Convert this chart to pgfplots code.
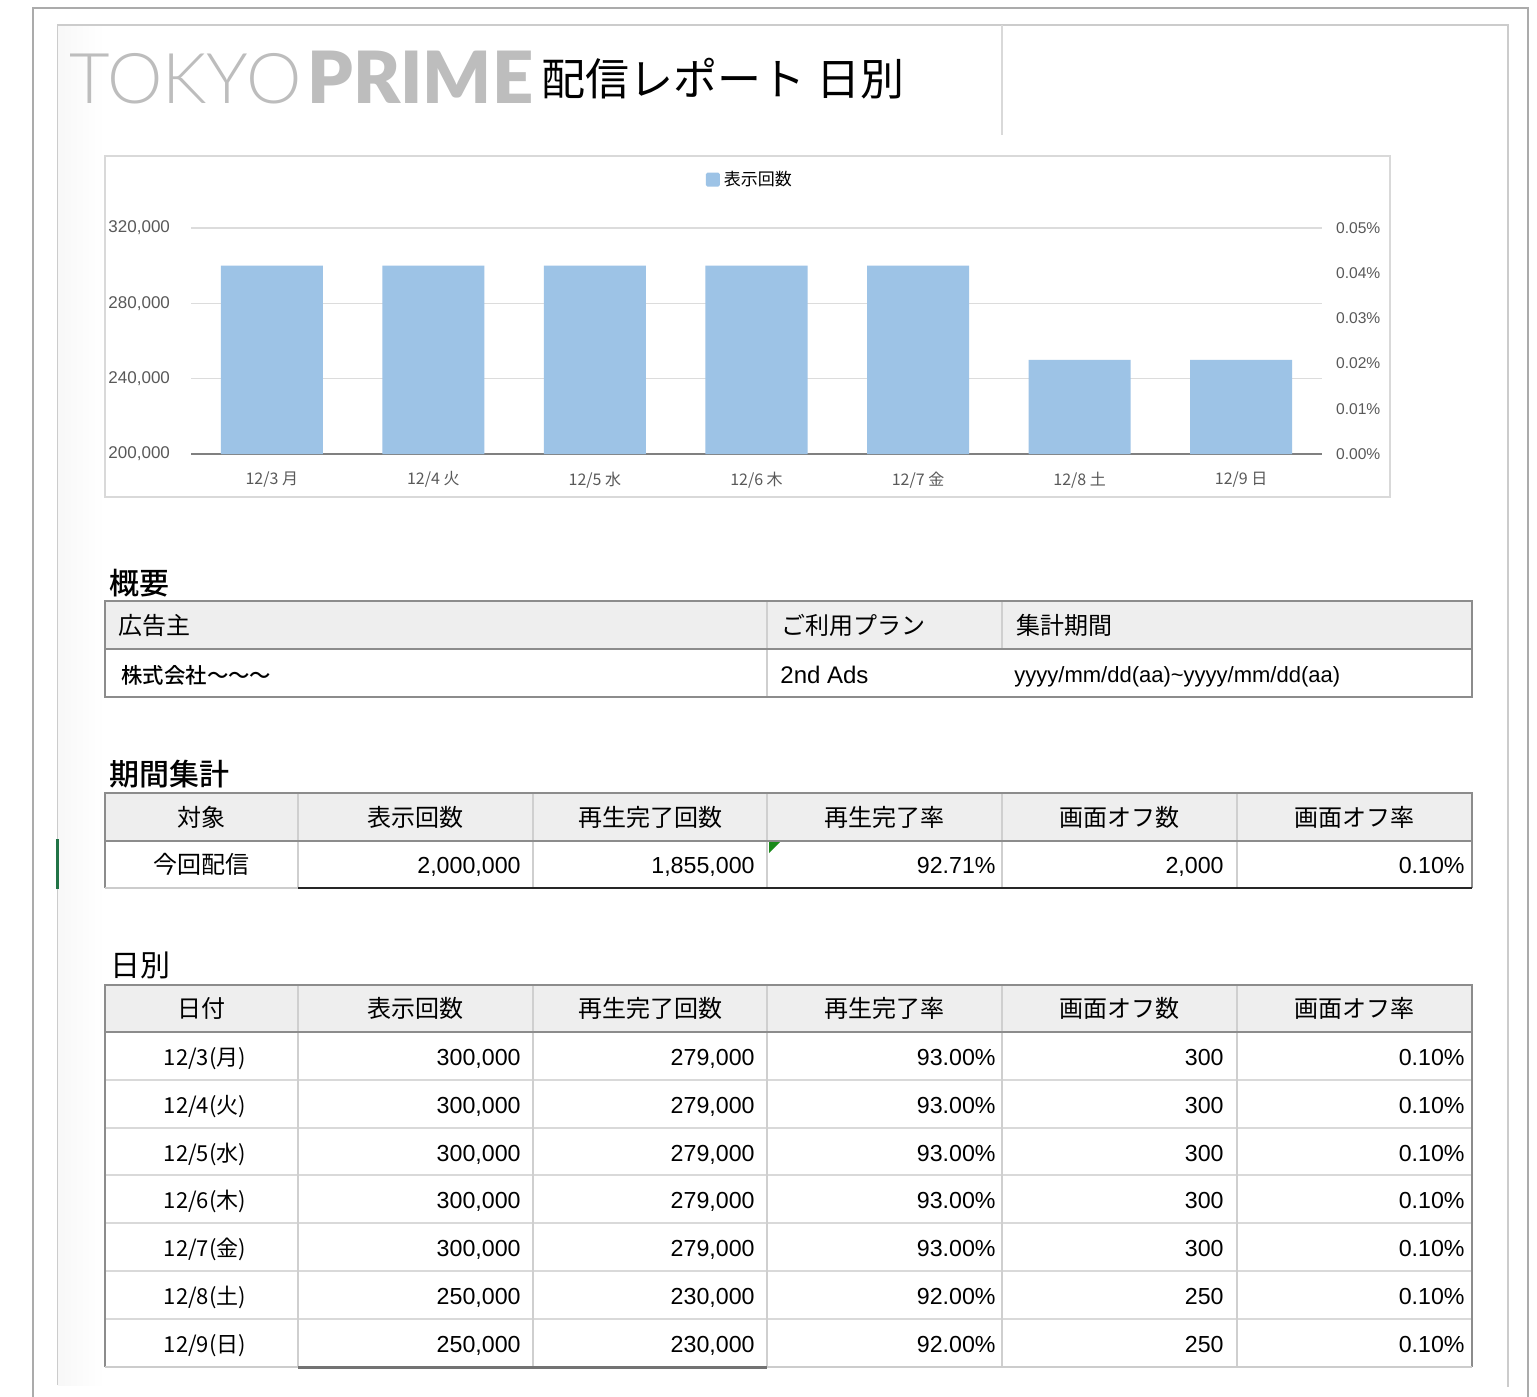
\documentclass[border=0pt]{standalone}
\usepackage{pgfplots}
\pgfplotsset{compat=1.18}
\usepackage{fontspec}
\setmainfont{Noto Sans CJK JP}
\newfontfamily\cjkm{Noto Sans CJK JP Medium}
\newfontfamily\arial{Liberation Sans}
\newfontfamily\latolight{Lato Light}
\newfontfamily\latoblack{Lato Black}
\definecolor{barblue}{HTML}{9DC3E6}
\definecolor{gridc}{HTML}{DCDCDC}
\definecolor{tickc}{HTML}{595959}
\definecolor{framec}{HTML}{D9D9D9}
\definecolor{hdrfill}{HTML}{EEEEEE}
\definecolor{tborder}{HTML}{8C8C8C}
\definecolor{tinner}{HTML}{CFCFCF}
\definecolor{logog}{HTML}{BDBDBD}
\definecolor{xlgreen}{HTML}{217346}
\definecolor{trigreen}{HTML}{1A8A1A}
\newcommand\drow[6]{%
 \node[inner sep=0,anchor=base,font=\fontsize{11}{11}\selectfont] at (205,#2) {#1};
 \node[inner sep=0,anchor=base east,font=\arial\fontsize{11.6}{11.6}\selectfont] at (521,#2) {#3};
 \node[inner sep=0,anchor=base east,font=\arial\fontsize{11.6}{11.6}\selectfont] at (755,#2) {#4};
 \node[inner sep=0,anchor=base east,font=\arial\fontsize{11.6}{11.6}\selectfont] at (996,#2) {#5};
 \node[inner sep=0,anchor=base east,font=\arial\fontsize{11.6}{11.6}\selectfont] at (1224,#2) {#6};
 \node[inner sep=0,anchor=base east,font=\arial\fontsize{11.6}{11.6}\selectfont] at (1465,#2) {0.10\%};
}
\begin{document}
\begin{tikzpicture}
\useasboundingbox (0,0) rectangle (768.5pt,-698.5pt);
\fill[white] (0,0) rectangle (768.5pt,-698.5pt);
\begin{scope}[x=0.5pt,y=-0.5pt]
% page frames
\shade[left color=black!3,right color=white] (58,26) rectangle (104,1385);
\draw[color=black!33,line width=1pt] (33,1397) -- (33,8) -- (1528,8) -- (1528,1397);
\draw[color=black!20,line width=0.7pt] (57.5,1385) -- (57.5,25) -- (1508,25) -- (1508,1387);
\draw[color=black!15,line width=0.6pt] (1002,25) -- (1002,135);
\draw[color=xlgreen,line width=1.2pt] (57.5,839) -- (57.5,889);
% title
\node[anchor=base west,inner sep=0,text=logog,font=\latolight\fontsize{35}{35}\selectfont] at (69,103) {TOKYO};
\node[anchor=base west,inner sep=0,text=logog,font=\latoblack\fontsize{36}{36}\selectfont] at (307,103) {PRIME};
\node[anchor=west,inner sep=0,font=\fontsize{22}{22}\selectfont] at (541,79) {配信レポート\kern0.25em 日別};
% chart frame
\draw[color=framec,line width=0.7pt] (105,156) rectangle (1390,497);
% section headings
\node[anchor=base west,inner sep=0,font=\cjkm\fontsize{15}{15}\selectfont] at (109,594) {概要};
\node[anchor=base west,inner sep=0,font=\cjkm\fontsize{15}{15}\selectfont] at (109,785) {期間集計};
\node[anchor=base west,inner sep=0,font=\fontsize{15}{15}\selectfont] at (110,976) {日別};
% ---- table 1
\fill[hdrfill] (105,601) rectangle (1472,649);
\draw[color=tinner,line width=0.6pt] (767,601) -- (767,697) (1002,601) -- (1002,649);
\draw[color=tborder,line width=1.1pt] (105,649) -- (1472,649);
\draw[color=tborder,line width=1.1pt] (105,601) rectangle (1472,697);
\begin{scope}[every node/.style={inner sep=0,font=\fontsize{12}{12}\selectfont}]
\node[anchor=base west] at (118,634) {広告主};
\node[anchor=base west] at (781,634) {ご利用プラン};
\node[anchor=base west] at (1016,634) {集計期間};
\node[anchor=base west,font=\cjkm\fontsize{10.7}{10.7}\selectfont] at (121,683) {株式会社〜〜〜};
\node[anchor=base west,font=\arial\fontsize{12}{12}\selectfont] at (780,683) {2nd Ads};
\node[anchor=base west,font=\arial\fontsize{11}{11}\selectfont] at (1014,682) {yyyy/mm/dd(aa)\textasciitilde yyyy/mm/dd(aa)};
\end{scope}
% ---- table 2
\fill[hdrfill] (105,793) rectangle (1472,841);
\foreach \xx in {298,533,767,1002,1237} \draw[color=tinner,line width=0.6pt] (\xx,793) -- (\xx,888);
\draw[color=tborder,line width=1.1pt] (105,841) -- (1472,841);
\draw[color=tborder,line width=1.1pt] (105,888) -- (105,793) -- (1472,793) -- (1472,888);
\draw[color=black!20,line width=1pt] (105,888) -- (298,888);
\draw[color=black!85,line width=1.3pt] (298,888) -- (1472,888);
\fill[trigreen] (769,842) -- (780,842) -- (769,853) -- cycle;
\begin{scope}[every node/.style={inner sep=0,font=\fontsize{12}{12}\selectfont}]
\node[anchor=base] at (201.5,826) {対象};
\node[anchor=base] at (415.5,826) {表示回数};
\node[anchor=base] at (650,826) {再生完了回数};
\node[anchor=base] at (884.5,826) {再生完了率};
\node[anchor=base] at (1119.5,826) {画面オフ数};
\node[anchor=base] at (1354.5,826) {画面オフ率};
\node[anchor=base] at (201.5,873) {今回配信};
\end{scope}
\begin{scope}[every node/.style={inner sep=0,anchor=base east,font=\arial\fontsize{11.6}{11.6}\selectfont}]
\node at (521,873) {2,000,000};
\node at (755,873) {1,855,000};
\node at (996,873) {92.71\%};
\node at (1224,873) {2,000};
\node at (1465,873) {0.10\%};
\end{scope}
% ---- table 3
\fill[hdrfill] (105,985) rectangle (1472,1032);
\foreach \yy in {1080,1128,1175,1223,1271,1319} \draw[color=black!15,line width=1pt] (105,\yy) -- (1472,\yy);
\foreach \xx in {298,533,767,1002,1237} \draw[color=tinner,line width=0.6pt] (\xx,985) -- (\xx,1367);
\draw[color=tborder,line width=1.1pt] (105,1032) -- (1472,1032);
\draw[color=tborder,line width=1.1pt] (105,1367) -- (105,985) -- (1472,985) -- (1472,1367);
\draw[color=black!20,line width=1pt] (105,1367) -- (298,1367) (767,1367) -- (1472,1367);
\draw[color=black!55,line width=1.5pt] (298,1367) -- (767,1367);
\begin{scope}[every node/.style={inner sep=0,font=\fontsize{12}{12}\selectfont}]
\node[anchor=base] at (201.5,1017) {日付};
\node[anchor=base] at (415.5,1017) {表示回数};
\node[anchor=base] at (650,1017) {再生完了回数};
\node[anchor=base] at (884.5,1017) {再生完了率};
\node[anchor=base] at (1119.5,1017) {画面オフ数};
\node[anchor=base] at (1354.5,1017) {画面オフ率};
\end{scope}
\drow{12/3(月)}{1065}{300,000}{279,000}{93.00\%}{300}
\drow{12/4(火)}{1113}{300,000}{279,000}{93.00\%}{300}
\drow{12/5(水)}{1161}{300,000}{279,000}{93.00\%}{300}
\drow{12/6(木)}{1208}{300,000}{279,000}{93.00\%}{300}
\drow{12/7(金)}{1256}{300,000}{279,000}{93.00\%}{300}
\drow{12/8(土)}{1304}{250,000}{230,000}{92.00\%}{250}
\drow{12/9(日)}{1352}{250,000}{230,000}{92.00\%}{250}
\end{scope}
% ---- chart
\begin{axis}[
  at={(95.5pt,-227pt)}, anchor=south west, scale only axis,
  width=565.5pt, height=113pt,
  ybar, bar width=51pt,
  xmin=-0.5, xmax=6.5, ymin=200000, ymax=320000,
  scaled y ticks=false,
  xtick={0,1,2,3,4,5,6},
  xticklabels={12/3 月,12/4 火,12/5 水,12/6 木,12/7 金,12/8 土,12/9 日},
  ytick={200000,240000,280000,320000},
  yticklabels={{200,000},{240,000},{280,000},{320,000}},
  axis x line*=bottom, axis y line*=left,
  y axis line style={draw=none},
  x axis line style={draw=black!50, line width=0.6pt},
  major tick length=0pt,
  ymajorgrids, grid style={gridc, line width=0.6pt},
  tick label style={text=tickc},
  yticklabel style={font=\arial\fontsize{8.5}{8.5}\selectfont, xshift=-7pt},
  xticklabel style={font=\fontsize{8}{8}\selectfont, yshift=-5.3pt},
  legend style={at={(0.495,1.272)}, anchor=north, draw=none, fill=none,
    font=\fontsize{8.5}{8.5}\selectfont, inner sep=0pt},
  legend image code/.code={\fill[barblue, rounded corners=0.8pt] (0pt,-3.5pt) rectangle (7pt,3.5pt);},
]
\addplot[fill=barblue, draw=none] coordinates {(0,300000) (1,300000) (2,300000) (3,300000) (4,300000) (5,250000) (6,250000)};
\addlegendentry{表示回数}
\end{axis}
\begin{axis}[
  at={(95.5pt,-227pt)}, anchor=south west, scale only axis,
  width=565.5pt, height=113pt,
  xmin=-0.5, xmax=6.5, ymin=0, ymax=0.05,
  scaled y ticks=false,
  axis x line=none, axis y line*=right,
  y axis line style={draw=none},
  major tick length=0pt,
  ytick={0,0.01,0.02,0.03,0.04,0.05},
  yticklabels={0.00\%,0.01\%,0.02\%,0.03\%,0.04\%,0.05\%},
  yticklabel style={font=\arial\fontsize{7.8}{7.8}\selectfont, text=tickc, xshift=3.5pt},
]
\end{axis}
\end{tikzpicture}
\end{document}
